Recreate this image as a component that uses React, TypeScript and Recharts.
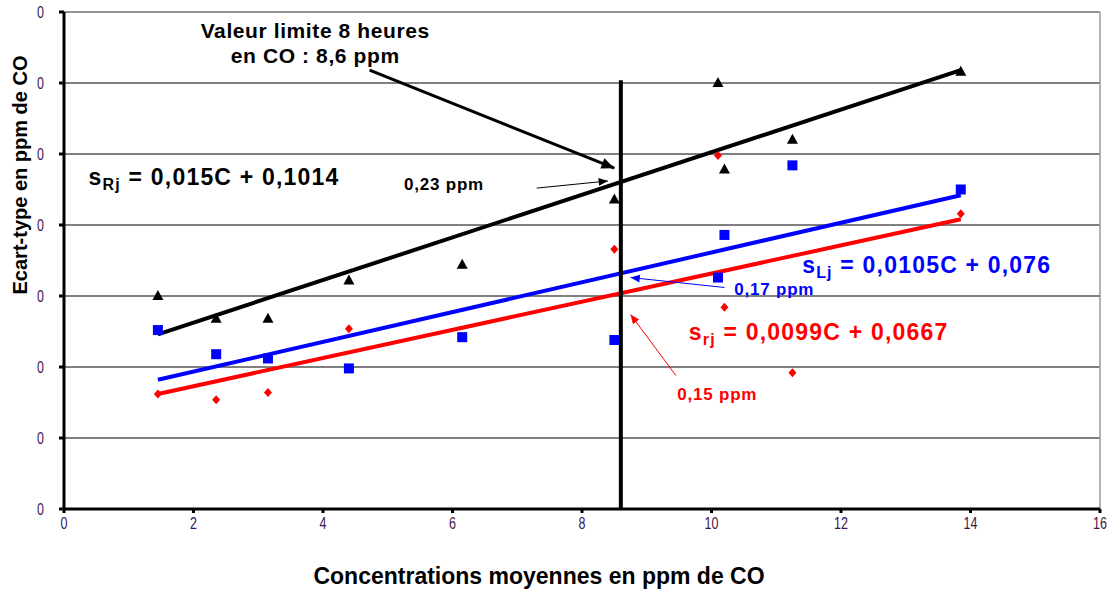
import React from "react";
import {
  ComposedChart,
  Scatter,
  Line,
  XAxis,
  YAxis,
  CartesianGrid,
  ReferenceLine,
  ReferenceDot,
} from "recharts";

// mean concentration (ppm CO) of each sample
const concentrations = [1.45, 2.35, 3.15, 4.4, 6.15, 8.5, 10.1, 10.2, 11.25, 13.85];
// reproducibility sRj (black triangles)
const sRj = [0.15, 0.134, 0.134, 0.161, 0.172, 0.218, 0.3, 0.239, 0.26, 0.308];
// sLj (blue squares)
const sLj = [0.126, 0.109, 0.106, 0.099, 0.121, 0.119, 0.163, 0.193, 0.242, 0.225];
// repeatability srj (red diamonds)
const srj = [0.081, 0.077, 0.082, 0.127, 0.121, 0.183, 0.249, 0.142, 0.096, 0.208];

// trend line end points, read at C = 1.45 and C = 13.85
const trendX = [1.45, 13.85];
const trendR = [0.123, 0.309];
const trendL = [0.091, 0.221];
const trendr = [0.081, 0.204];

const xTicks = [0, 2, 4, 6, 8, 10, 12, 14, 16];
const yTicks = [0, 0.05, 0.1, 0.15, 0.2, 0.25, 0.3, 0.35];

const limitC = 8.6;

const toPoints = (xs: number[], ys: number[]) => xs.map((x, i) => ({ x, y: ys[i] }));

const blackPts = toPoints(concentrations, sRj);
const bluePts = toPoints(concentrations, sLj);
const redPts = toPoints(concentrations, srj);

const FONT = "Arial, 'Liberation Sans', sans-serif";
const TICK = "#3b1650";

const Triangle = (p: any) => (
  <polygon
    points={`${p.cx},${p.cy - 6} ${p.cx - 5.5},${p.cy + 4} ${p.cx + 5.5},${p.cy + 4}`}
    fill="#000"
  />
);
const Square = (p: any) => (
  <rect x={p.cx - 5} y={p.cy - 5} width={10} height={10} fill="#0000ff" />
);
const Diamond = (p: any) => (
  <polygon
    points={`${p.cx},${p.cy - 4.5} ${p.cx + 4},${p.cy} ${p.cx},${p.cy + 4.5} ${p.cx - 4},${p.cy}`}
    fill="#ff0000"
  />
);

// narrow-looking tick labels
const XTick = (p: any) => (
  <text
    transform={`translate(${p.x},${p.y + 14}) scale(0.78,1)`}
    textAnchor="middle"
    fill={TICK}
    fontSize={16}
    fontFamily={FONT}
  >
    {p.payload.value}
  </text>
);
const YTick = (p: any) => (
  <text
    transform={`translate(${p.x - 13},${p.y + 5.5}) scale(0.78,1)`}
    textAnchor="end"
    fill={TICK}
    fontSize={16}
    fontFamily={FONT}
  >
    0
  </text>
);

function arrowShape(color: string, width: number, head: number) {
  return (p: any) => {
    const { x1, y1, x2, y2 } = p;
    const a = Math.atan2(y2 - y1, x2 - x1);
    const hx1 = x2 - head * Math.cos(a - 0.4);
    const hy1 = y2 - head * Math.sin(a - 0.4);
    const hx2 = x2 - head * Math.cos(a + 0.4);
    const hy2 = y2 - head * Math.sin(a + 0.4);
    return (
      <g>
        <line x1={x1} y1={y1} x2={x2} y2={y2} stroke={color} strokeWidth={width} />
        <polygon points={`${x2},${y2} ${hx1},${hy1} ${hx2},${hy2}`} fill={color} />
      </g>
    );
  };
}

function textShape(lines: string[], color: string, size: number, anchor: string = "start", spacing = 0) {
  return (p: any) => (
    <text
      x={p.cx}
      y={p.cy}
      fill={color}
      fontSize={size}
      fontWeight="bold"
      fontFamily={FONT}
      textAnchor={anchor as any}
      letterSpacing={spacing}
    >
      {lines.map((l, i) => (
        <tspan key={i} x={p.cx} dy={i === 0 ? 0 : 25}>
          {l}
        </tspan>
      ))}
    </text>
  );
}

function eqShape(sub: string, rest: string, color: string) {
  return (p: any) => (
    <text
      x={p.cx}
      y={p.cy}
      fill={color}
      fontWeight="bold"
      fontFamily={FONT}
      fontSize={23}
      letterSpacing={1.2}
    >
      <tspan>s</tspan>
      <tspan fontSize={16} dy={5}>{sub}</tspan>
      <tspan dy={-5}>{" = " + rest}</tspan>
    </text>
  );
}

export default function App() {
  return (
    <div style={{ position: "absolute", left: 0, top: 0, width: 1111, height: 590, background: "#fff" }}>
      <ComposedChart
        width={1111}
        height={590}
        margin={{ top: 12, right: 11, bottom: 51, left: 0 }}
      >
        <CartesianGrid vertical={false} stroke="#000" strokeWidth={1} />
        <XAxis
          type="number"
          dataKey="x"
          domain={[0, 16]}
          ticks={xTicks}
          allowDataOverflow
          axisLine={{ stroke: "#000", strokeWidth: 3 }}
          tickLine={{ stroke: "#000", strokeWidth: 3 }}
          tickSize={4}
          height={30}
          tick={XTick}
        />
        <YAxis
          type="number"
          dataKey="y"
          domain={[0, 0.35]}
          ticks={yTicks}
          allowDataOverflow
          width={64}
          axisLine={{ stroke: "#000", strokeWidth: 3 }}
          tickLine={{ stroke: "#000", strokeWidth: 3 }}
          tickSize={5}
          tick={YTick}
        />
        <ReferenceLine y={0.35} stroke="#9a9a9a" strokeWidth={1.5} />
        <ReferenceLine x={16} stroke="#9a9a9a" strokeWidth={1.5} />

        <Line
          data={toPoints(trendX, trendr)}
          dataKey="y"
          type="linear"
          stroke="#ff0000"
          strokeWidth={4}
          dot={false}
          isAnimationActive={false}
        />
        <Line
          data={toPoints(trendX, trendL)}
          dataKey="y"
          type="linear"
          stroke="#0000ff"
          strokeWidth={4}
          dot={false}
          isAnimationActive={false}
        />
        <Line
          data={toPoints(trendX, trendR)}
          dataKey="y"
          type="linear"
          stroke="#000"
          strokeWidth={4}
          dot={false}
          isAnimationActive={false}
        />

        <Scatter data={redPts} shape={Diamond} isAnimationActive={false} />
        <Scatter data={bluePts} shape={Square} isAnimationActive={false} />
        <Scatter data={blackPts} shape={Triangle} isAnimationActive={false} />

        <ReferenceLine
          segment={[{ x: limitC, y: 0 }, { x: limitC, y: 0.302 }]}
          stroke="#000"
          strokeWidth={4}
        />

        <ReferenceLine
          segment={[{ x: 4.72, y: 0.309 }, { x: 8.5, y: 0.24 }]}
          shape={arrowShape("#000", 3, 14)}
        />
        <ReferenceLine
          segment={[{ x: 7.3, y: 0.226 }, { x: 8.4, y: 0.231 }]}
          shape={arrowShape("#000", 1, 10)}
        />
        <ReferenceLine
          segment={[{ x: 10.2, y: 0.156 }, { x: 8.75, y: 0.163 }]}
          shape={arrowShape("#0000ff", 1, 10)}
        />
        <ReferenceLine
          segment={[{ x: 9.45, y: 0.094 }, { x: 8.75, y: 0.137 }]}
          shape={arrowShape("#ff0000", 1, 10)}
        />

        <ReferenceDot x={3.88} y={0.332} r={0} shape={textShape(["Valeur limite 8 heures", "en CO : 8,6 ppm"], "#000", 21, "middle", 0.6)} />
        <ReferenceDot x={0.38} y={0.228} r={0} shape={eqShape("Rj", "0,015C + 0,1014", "#000")} />
        <ReferenceDot x={5.25} y={0.225} r={0} shape={textShape(["0,23 ppm"], "#000", 17, "start", 0.8)} />
        <ReferenceDot x={11.4} y={0.166} r={0} shape={eqShape("Lj", "0,0105C + 0,076", "#0000ff")} />
        <ReferenceDot x={10.35} y={0.151} r={0} shape={textShape(["0,17 ppm"], "#0000ff", 17, "start", 0.8)} />
        <ReferenceDot x={9.65} y={0.119} r={0} shape={eqShape("rj", "0,0099C + 0,0667", "#ff0000")} />
        <ReferenceDot x={9.47} y={0.077} r={0} shape={textShape(["0,15 ppm"], "#ff0000", 17, "start", 0.8)} />
      </ComposedChart>

      <div
        style={{
          position: "absolute",
          left: 20,
          top: 175,
          transform: "translate(-50%, -50%) rotate(-90deg)",
          whiteSpace: "nowrap",
          fontFamily: FONT,
          fontWeight: "bold",
          fontSize: 20,
          color: "#000",
        }}
      >
        Ecart-type en ppm de CO
      </div>
      <div
        style={{
          position: "absolute",
          left: 539,
          top: 576,
          transform: "translate(-50%, -50%)",
          whiteSpace: "nowrap",
          fontFamily: FONT,
          fontWeight: "bold",
          fontSize: 23,
          color: "#000",
        }}
      >
        Concentrations moyennes en ppm de CO
      </div>
    </div>
  );
}
